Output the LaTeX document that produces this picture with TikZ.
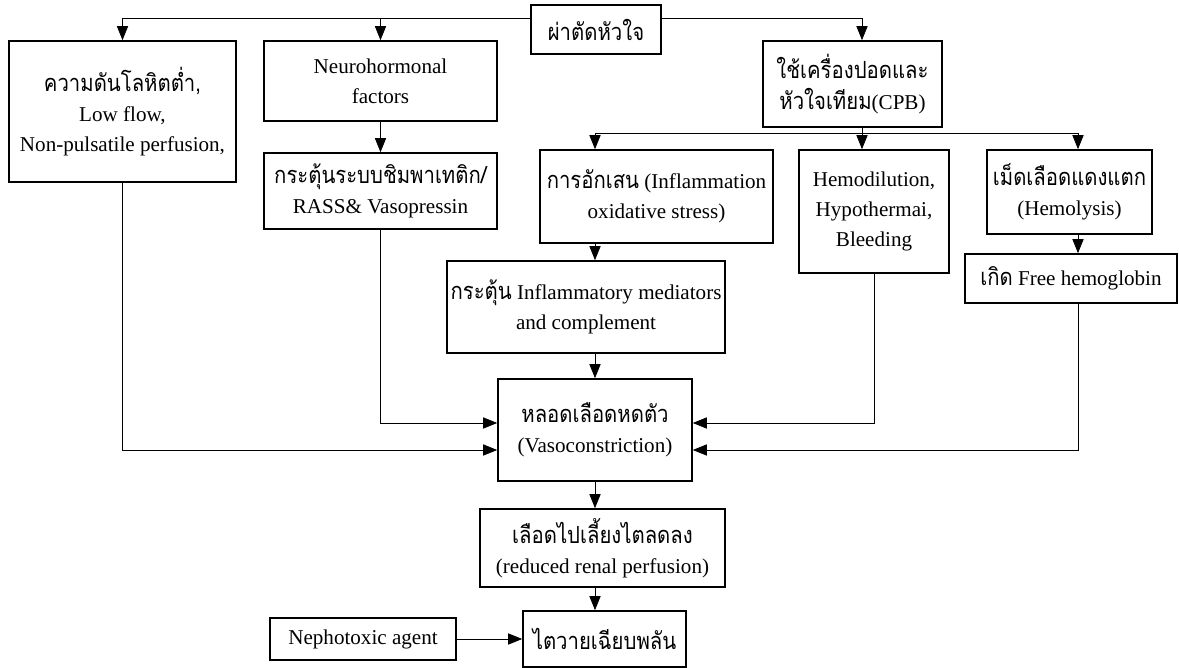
\documentclass[tikz,border=0pt]{standalone}
\usepackage{fontspec}
\setmainfont{Liberation Serif}
\newfontfamily\thai[Script=Thai, Scale=1.12, FakeStretch=0.86]{Loma}
\usetikzlibrary{arrows.meta}
\newcommand{\pxu}{0.025cm}
\begin{document}
\begin{tikzpicture}[x=0.025cm, y=-0.025cm,
	box/.style={draw, line width=1.2pt, align=center, inner sep=0pt, font=\fontsize{15}{21.5}\selectfont},
	arr/.style={-{Triangle[length=10pt,width=8pt]}, line width=0.5pt}]
	\useasboundingbox (0,0) rectangle (1179,668);

% caixas
	\node[box, minimum width=130*\pxu, minimum height=49*\pxu] (surgery) at (596,29.5) {{\thai ผ่าตัดหัวใจ}};
	\node[box, minimum width=227*\pxu, minimum height=141*\pxu] (hypo) at (122.5,111.5) {{\thai ความดันโลหิตต่ำ,}\\Low flow,\\Non-pulsatile perfusion,};
	\node[box, minimum width=233*\pxu, minimum height=80*\pxu] (neuro) at (380.5,81) {Neurohormonal\\factors};
	\node[box, minimum width=233*\pxu, minimum height=76*\pxu] (sympa) at (380.5,191) {{\thai กระตุ้นระบบชิมพาเทติก/}\\RASS\& Vasopressin};
	\node[box, minimum width=179*\pxu, minimum height=86*\pxu] (cpb) at (852.5,84) {{\thai ใช้เครื่องปอดและ}\\{\thai หัวใจเทียม}(CPB)};
	\node[box, minimum width=233*\pxu, minimum height=93*\pxu] (inflam) at (656.5,196.5) {{\thai การอักเสน} (Inflammation\\oxidative stress)};
	\node[box, minimum width=150*\pxu, minimum height=123*\pxu] (hemodil) at (874,211.5) {Hemodilution,\\Hypothermai,\\Bleeding};
	\node[box, minimum width=165*\pxu, minimum height=84*\pxu] (hemolysis) at (1069.5,192) {{\thai เม็ดเลือดแดงแตก}\\(Hemolysis)};
	\node[box, minimum width=212*\pxu, minimum height=49*\pxu] (freehb) at (1071,278.5) {{\thai เกิด} Free hemoglobin};
	\node[box, minimum width=278*\pxu, minimum height=92*\pxu] (mediator) at (586,307) {{\thai กระตุ้น} Inflammatory mediators\\and complement};
	\node[box, minimum width=194*\pxu, minimum height=102*\pxu] (vaso) at (595,430) {{\thai หลอดเลือดหดตัว}\\(Vasoconstriction)};
	\node[box, minimum width=245*\pxu, minimum height=78*\pxu] (renal) at (602.5,548) {{\thai เลือดไปเลี้ยงไตลดลง}\\(reduced renal perfusion)};
	\node[box, minimum width=163*\pxu, minimum height=56*\pxu] (aki) at (604.5,639) {{\thai ไตวายเฉียบพลัน}};
	\node[box, minimum width=186*\pxu, minimum height=42*\pxu] (nephro) at (363,639) {Nephotoxic agent};

% pontos de apoio
	\coordinate (topline) at (0,18);
	\coordinate (spine) at (595,0);
	\coordinate (cpbx) at (862,0);
	\coordinate (hbx) at (1078,0);
	\coordinate (split) at (862,133);
	\coordinate (inA) at (0,423);
	\coordinate (inB) at (0,450);

% setas de cima
	\draw[arr] (surgery.west |- topline) -| (hypo.north);
	\draw[arr] (surgery.west |- topline) -| (neuro.north);
	\draw[arr] (surgery.east |- topline) -| (cpb.north -| cpbx);
	\draw[arr] (neuro) -- (sympa);
	\draw (cpb.south -| split) -- (split);
	\draw[arr] (split) -| (inflam.north -| spine);
	\draw[arr] (split) -- (hemodil.north -| split);
	\draw[arr] (split) -| (hemolysis.north -| hbx);
	\draw[arr] (hemolysis.south -| hbx) -- (freehb.north -| hbx);
	\draw[arr] (inflam.south -| spine) -- (mediator.north -| spine);
	\draw[arr] (mediator.south -| spine) -- (vaso.north -| spine);

% entradas
	\draw[arr] (hypo.south) |- (vaso.west |- inB);
	\draw[arr] (sympa.south) |- (vaso.west |- inA);
	\draw[arr] (hemodil.south) |- (vaso.east |- inA);
	\draw[arr] (freehb.south -| hbx) |- (vaso.east |- inB);

% saida
	\draw[arr] (vaso.south) -- (renal.north -| vaso.south);
	\draw[arr] (renal.south -| vaso.south) -- (aki.north -| vaso.south);
	\draw[arr] (nephro) -- (aki);
\end{tikzpicture}
\end{document}
